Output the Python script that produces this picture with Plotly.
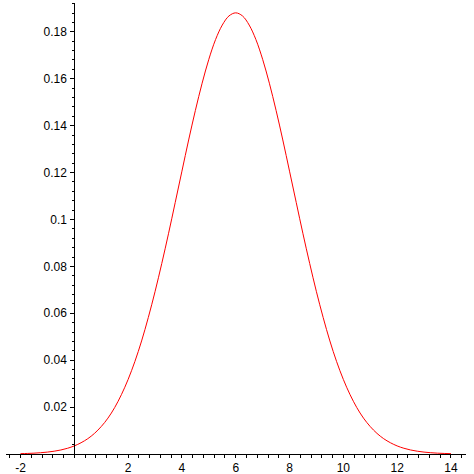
import plotly.graph_objects as go

# Values (x, y)
x_vals = [-2, -1.75, -1.5, -1.25, -1, -0.75, -0.5, -0.25, 0, 0.25, 0.5, 0.75,
          1, 1.25, 1.5, 1.75, 2, 2.25, 2.5, 2.75, 3, 3.25, 3.5, 3.75,
          4, 4.25, 4.5, 4.75, 5, 5.25, 5.5, 5.75, 6, 6.25, 6.5, 6.75,
          7, 7.25, 7.5, 7.75, 8, 8.25, 8.5, 8.75, 9, 9.25, 9.5, 9.75,
          10, 10.25, 10.5, 10.75, 11, 11.25, 11.5, 11.75, 12, 12.25, 12.5, 12.75,
          13, 13.25, 13.5, 13.75, 14]
y_vals = [0.00015, 0.00024, 0.00036, 0.00055, 0.00081, 0.00119, 0.00172, 0.00245,
          0.00345, 0.0048, 0.00653, 0.0088, 0.0117, 0.0153, 0.0198, 0.0253,
          0.0318, 0.0394, 0.0482, 0.0582, 0.0692, 0.0812, 0.0939, 0.1072,
          0.1206, 0.1339, 0.1465, 0.1581, 0.1683, 0.1767, 0.1829, 0.1868,
          0.1881, 0.1868, 0.1829, 0.1767, 0.1683, 0.1581, 0.1465, 0.1339,
          0.1206, 0.1072, 0.0939, 0.0812, 0.0692, 0.0582, 0.0482, 0.0394,
          0.0318, 0.0253, 0.0198, 0.0153, 0.0117, 0.0088, 0.00653, 0.0048,
          0.00345, 0.00245, 0.00172, 0.00119, 0.00081, 0.00055, 0.00036, 0.00024,
          0.00015]

x_tickvals = [-2, 0, 2, 4, 6, 8, 10, 12, 14]
x_ticktext = ["-2", "", "2", "4", "6", "8", "10", "12", "14"]
y_tickvals = [0.02, 0.04, 0.06, 0.08, 0.1, 0.12, 0.14, 0.16, 0.18]
y_ticktext = ["0.02", "0.04", "0.06", "0.08", "0.1", "0.12", "0.14", "0.16", "0.18"]

x_range = [-2.54, 14.56]
y_range = [0, 0.1923]

fig = go.Figure()
fig.add_trace(go.Scatter(x=x_vals, y=y_vals, mode="lines",
                         line=dict(color="#ff0000", width=1, shape="spline"),
                         hoverinfo="skip"))

ypos = (0 - x_range[0]) / (x_range[1] - x_range[0])

fig.update_layout(
    width=474, height=474,
    margin=dict(l=6, r=8, t=3, b=20, autoexpand=False),
    paper_bgcolor="white", plot_bgcolor="white",
    showlegend=False,
    font=dict(family="Liberation Sans, Arial, sans-serif", size=12, color="black"),
    xaxis=dict(range=x_range, showgrid=False, zeroline=False, automargin=False,
               showline=True, linecolor="black", linewidth=1,
               tickmode="array", tickvals=x_tickvals, ticktext=x_ticktext,
               ticks="outside", ticklen=3, tickcolor="black", tickwidth=1,
               minor=dict(dtick=0.4, tick0=0, ticks="outside", ticklen=3,
                          tickcolor="black", tickwidth=1),
               ticklabelstandoff=0,
               fixedrange=True),
    yaxis=dict(range=y_range, showgrid=False, zeroline=False, automargin=False,
               anchor="free", position=ypos,
               showline=True, linecolor="black", linewidth=1,
               tickmode="array", tickvals=y_tickvals, ticktext=y_ticktext,
               ticks="outside", ticklen=4, tickcolor="black", tickwidth=1,
               minor=dict(dtick=0.004, tick0=0, ticks="outside", ticklen=2,
                          tickcolor="black", tickwidth=1),
               ticklabelstandoff=1,
               fixedrange=True),
)

fig.write_html("out.html", config={"displayModeBar": False},
               post_script="document.body.style.margin='0';document.body.style.overflow='hidden';")
